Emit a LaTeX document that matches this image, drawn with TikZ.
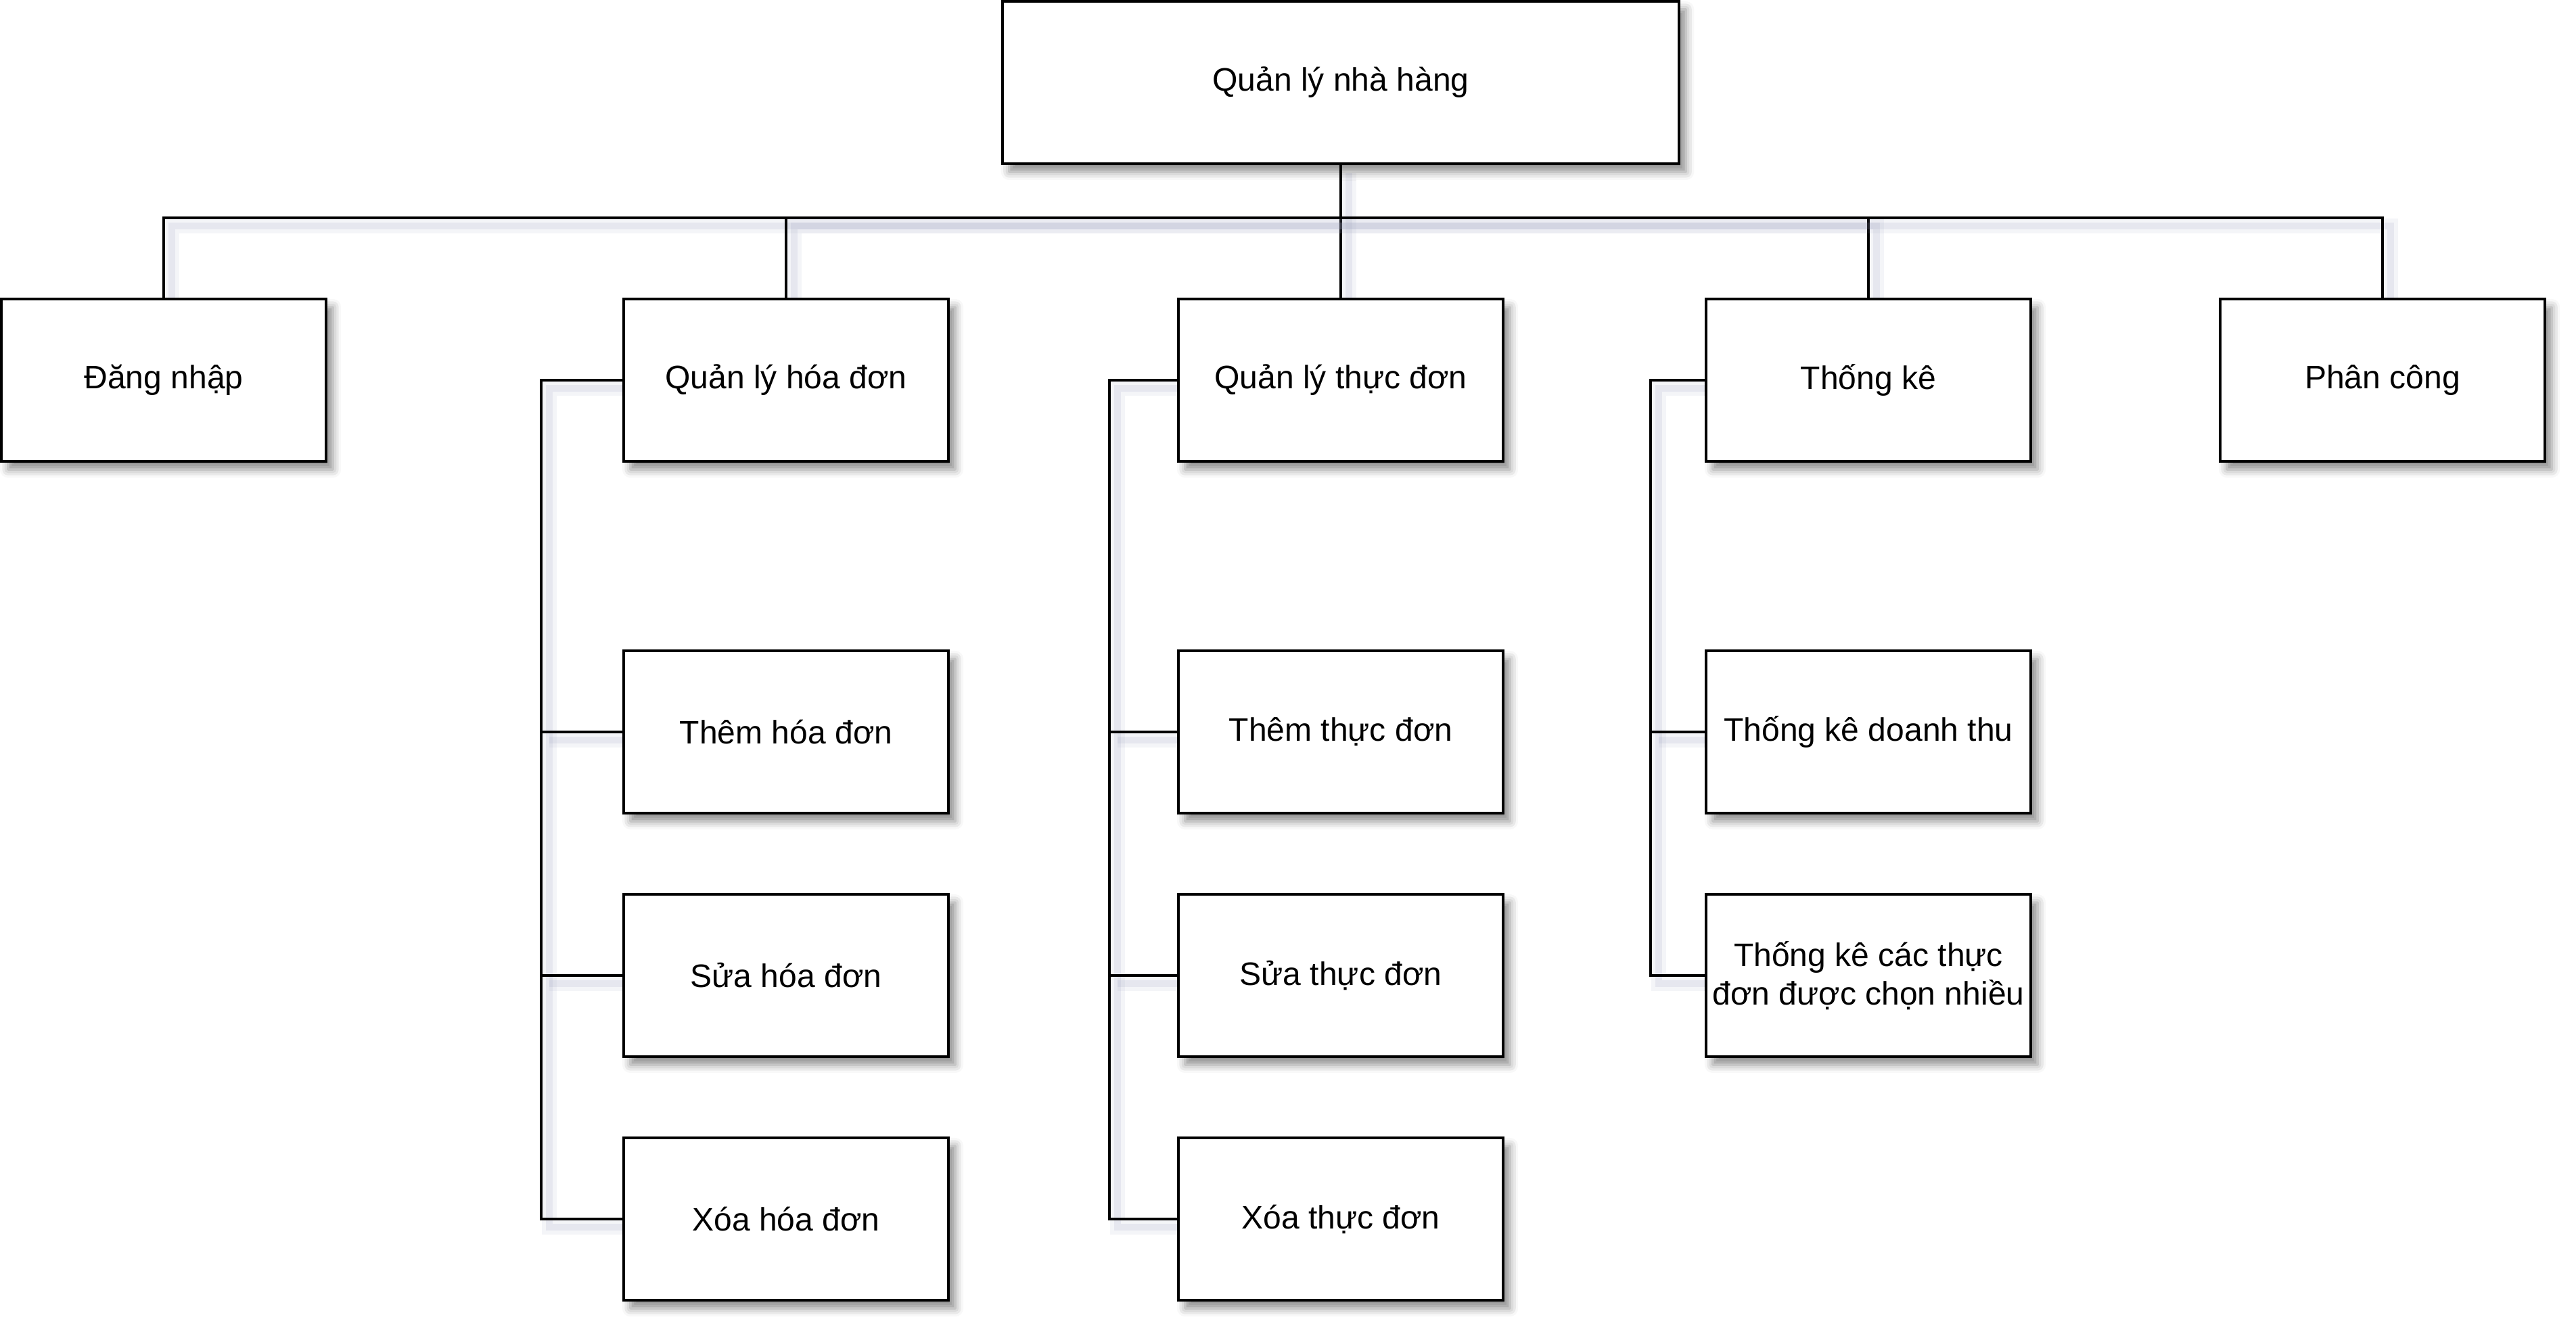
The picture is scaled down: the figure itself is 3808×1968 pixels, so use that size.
\documentclass[tikz,border=0pt]{standalone}
\usepackage{fontspec}
\setmainfont{Liberation Sans}
\usetikzlibrary{shadows.blur}
\pgfdeclarelayer{bg}
\pgfsetlayers{bg,main}
\definecolor{shc}{RGB}{150,155,185}
\tikzset{
  box/.style={draw=black, fill=white, line width=0.04cm, inner sep=0pt,
    minimum width=4.8cm, minimum height=2.4cm, align=center,
    font=\fontsize{13.66pt}{16.4pt}\selectfont,
    blur shadow={shadow xshift=0.1cm, shadow yshift=-0.12cm, shadow blur radius=0.12cm, shadow opacity=45}},
  conn/.style={draw=black, line width=0.04cm,
    preaction={draw=shc, line width=0.22cm, opacity=0.10, transform canvas={xshift=0.12cm, yshift=-0.12cm}},
    preaction={draw=shc, line width=0.1cm, opacity=0.15, transform canvas={xshift=0.12cm, yshift=-0.12cm}}}
}
\begin{document}
\begin{tikzpicture}[x=0.01cm, y=-0.01cm]
\useasboundingbox (0,0) rectangle (3808,1968);
% root
\node[box, minimum width=10cm] (root) at (1982,122) {Quản lý nhà hàng};
% level 1
\node[box] (dang) at (242,562) {Đăng nhập};
\node[box] (hd) at (1162,562) {Quản lý hóa đơn};
\node[box] (td) at (1982,562) {Quản lý thực đơn};
\node[box] (tk) at (2762,562) {Thống kê};
\node[box] (pc) at (3522,562) {Phân công};
% level 2
\node[box] (hd1) at (1162,1082) {Thêm hóa đơn};
\node[box] (hd2) at (1162,1442) {Sửa hóa đơn};
\node[box] (hd3) at (1162,1802) {Xóa hóa đơn};
\node[box] (td1) at (1982,1082) {Thêm thực đơn};
\node[box] (td2) at (1982,1442) {Sửa thực đơn};
\node[box] (td3) at (1982,1802) {Xóa thực đơn};
\node[box] (tk1) at (2762,1082) {Thống kê doanh thu};
\node[box] (tk2) at (2762,1442) {Thống kê các thực\\đơn được chọn nhiều};
\coordinate (bus) at (1982,322);
\begin{pgfonlayer}{bg}
\draw[conn] (root.south) -- (td.north);
\draw[conn] (bus) -| (dang.north);
\draw[conn] (bus) -| (hd.north);
\draw[conn] (bus) -| (tk.north);
\draw[conn] (bus) -| (pc.north);
\draw[conn] (hd.west) -- ++(-120,0) |- (hd3.west);
\draw[conn] (hd1.west) -- ++(-120,0);
\draw[conn] (hd2.west) -- ++(-120,0);
\draw[conn] (td.west) -- ++(-100,0) |- (td3.west);
\draw[conn] (td1.west) -- ++(-100,0);
\draw[conn] (td2.west) -- ++(-100,0);
\draw[conn] (tk.west) -- ++(-80,0) |- (tk2.west);
\draw[conn] (tk1.west) -- ++(-80,0);
\end{pgfonlayer}
\end{tikzpicture}
\end{document}
